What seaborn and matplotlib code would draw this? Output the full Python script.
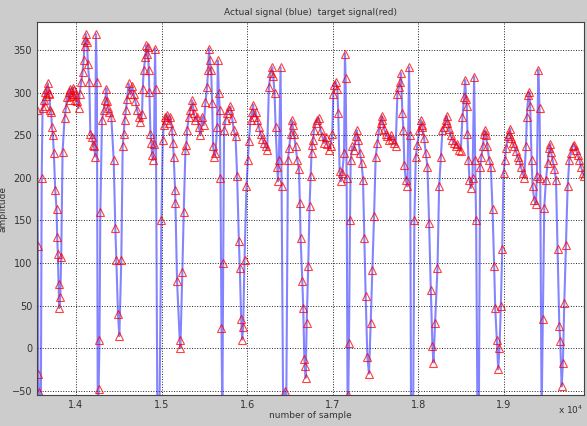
import matplotlib
matplotlib.use("Agg")
import matplotlib.pyplot as plt
import seaborn as sns

# sample index of each point
sample_idx = [
    13548, 13556, 13562, 13568, 13576, 13590, 13600, 13610, 13622, 13633,
    13641, 13653, 13661, 13672, 13680, 13688, 13700, 13711, 13719, 13731,
    13742, 13758, 13774, 13781, 13789, 13797, 13805, 13817, 13828, 13844,
    13867, 13883, 13895, 13914, 13926, 13934, 13945, 13953, 13965, 13973,
    13984, 13992, 14012, 14031, 14043, 14062, 14078, 14090, 14101, 14109,
    14117, 14129, 14140, 14156, 14168, 14187, 14199, 14210, 14226, 14234,
    14245, 14255, 14265, 14275, 14285, 14304, 14324, 14343, 14355, 14366,
    14374, 14390, 14413, 14441, 14460, 14472, 14491, 14507, 14530, 14546,
    14558, 14569, 14585, 14597, 14616, 14636, 14655, 14675, 14694, 14714,
    14733, 14753, 14772, 14780, 14792, 14811, 14823, 14834, 14842, 14850,
    14858, 14870, 14881, 14889, 14901, 14912, 14924, 14932, 14951, 14975,
    14998, 15014, 15026, 15045, 15057, 15068, 15084, 15103, 15123, 15134,
    15142, 15158, 15162, 15181, 15212, 15220, 15243, 15259, 15279, 15290,
    15298, 15318, 15337, 15357, 15368, 15376, 15396, 15415, 15435, 15454,
    15474, 15493, 15513, 15532, 15544, 15555, 15563, 15579, 15591, 15602,
    15618, 15630, 15649, 15657, 15669, 15680, 15688, 15700, 15710, 15720,
    15730, 15747, 15766, 15786, 15805, 15825, 15844, 15864, 15883, 15903,
    15914, 15930, 15942, 15953, 15969, 15992, 16008, 16020, 16039, 16059,
    16070, 16078, 16098, 16117, 16137, 16156, 16176, 16195, 16215, 16234,
    16254, 16273, 16293, 16304, 16320, 16332, 16351, 16359, 16371, 16390,
    16402, 16421, 16441, 16456, 16476, 16491, 16507, 16519, 16530, 16546,
    16566, 16585, 16605, 16616, 16624, 16644, 16655, 16668, 16676, 16684,
    16695, 16713, 16729, 16741, 16752, 16760, 16768, 16780, 16799, 16819,
    16838, 16858, 16877, 16897, 16916, 16936, 16955, 16975, 16994, 17006,
    17017, 17033, 17053, 17064, 17080, 17095, 17111, 17131, 17142, 17150,
    17162, 17173, 17181, 17189, 17201, 17209, 17228, 17248, 17267, 17279,
    17298, 17318, 17337, 17353, 17368, 17384, 17404, 17423, 17443, 17462,
    17482, 17501, 17521, 17540, 17560, 17571, 17579, 17599, 17618, 17638,
    17657, 17677, 17696, 17716, 17735, 17755, 17774, 17786, 17797, 17813,
    17825, 17836, 17852, 17872, 17891, 17903, 17914, 17938, 17953, 17969,
    17988, 18008, 18028, 18039, 18047, 18066, 18086, 18106, 18125, 18145,
    18164, 18176, 18195, 18223, 18242, 18262, 18281, 18300, 18320, 18331,
    18339, 18359, 18378, 18398, 18417, 18437, 18456, 18476, 18495, 18515,
    18534, 18546, 18557, 18565, 18573, 18585, 18596, 18612, 18632, 18651,
    18663, 18674, 18690, 18706, 18721, 18737, 18752, 18768, 18780, 18788,
    18807, 18827, 18846, 18866, 18885, 18897, 18916, 18932, 18947, 18963,
    18979, 18994, 19010, 19025, 19041, 19061, 19072, 19080, 19100, 19119,
    19139, 19158, 19178, 19197, 19217, 19236, 19256, 19267, 19283, 19295,
    19306, 19322, 19334, 19353, 19373, 19384, 19400, 19415, 19423, 19439,
    19454, 19470, 19490, 19509, 19529, 19540, 19548, 19568, 19587, 19607,
    19626, 19646, 19657, 19673, 19688, 19704, 19724, 19743, 19763, 19782,
    19802, 19821, 19841, 19860, 19880, 19899, 19919, 19938,
]

# amplitude at each sample (actual and target share the same points)
amplitude = [
    280, 120, -31, -52, -80, -80, 200, 282, 291, 285,
    301, 296, 305, 311, 300, 299, 280, 278, 260, 250,
    229, 186, 163, 131, 110, 75, 47, 60, 107, 231,
    270, 282, 295, 301, 292, 305, 296, 299, 306, 303,
    292, 298, 290, 282, 299, 313, 325, 338, 362, 355,
    369, 360, 334, 313, 252, 248, 239, 238, 225, 369,
    313, -80, -48, 10, 160, 268, 280, 291, 305, 290,
    282, 278, 272, 221, 141, 104, 40, 14, 104, 237,
    252, 268, 280, 293, 311, 298, 308, 299, 290, 280,
    272, 266, 275, 305, 327, 342, 356, 345, 354, 327,
    301, 252, 241, 227, 221, 240, 352, 304, -80, -80,
    150, 245, 262, 272, 268, 274, 265, 272, 256, 241,
    225, 186, 170, 79, 10, 0, 90, 160, 233, 239,
    256, 272, 280, 291, 284, 276, 268, 272, 260, 250,
    272, 262, 289, 307, 327, 352, 338, 327, 288, 237,
    225, 229, 260, 338, 300, 280, 200, 24, -80, 100,
    256, 268, 276, 280, 284, 270, 256, 249, 202, 126,
    94, 34, 10, 25, 104, 190, 221, 243, 268, 278,
    286, 272, 278, 268, 260, 252, 246, 241, 238, 233,
    307, 323, 330, 320, 300, 260, 213, 196, 221, 330,
    190, -80, -50, -80, 221, 235, 252, 268, 262, 252,
    237, 221, 210, 170, 129, 79, 47, -13, -21, -35,
    30, 96, 167, 202, 229, 239, 245, 256, 264, 268,
    270, 256, 249, 241, 248, 240, 233, 238, 252, 299,
    309, 313, 305, 276, 208, 196, 206, 229, 346, 317,
    200, -80, -55, 6, 150, 221, 237, 233, 249, 256,
    245, 229, 217, 198, 129, 61, -11, -30, 30, 92,
    155, 225, 241, 256, 264, 273, 268, 258, 252, 249,
    245, 250, 246, 241, 238, 299, 307, 313, 323, 276,
    256, 215, 198, 190, 330, 250, -80, -80, 150, 225,
    239, 256, 268, 262, 260, 247, 229, 213, 147, 68,
    2, -17, 30, 94, 190, 225, 256, 260, 268, 273,
    265, 258, 250, 244, 241, 238, 240, 233, 232, 272,
    295, 315, 293, 284, 252, 221, 198, 188, 200, 319,
    221, 151, -80, -80, 213, 225, 237, 252, 256, 250,
    237, 221, 213, 163, 96, 47, 10, -25, 0, 49,
    116, 206, 221, 235, 249, 252, 258, 247, 241, 237,
    232, 225, 221, 213, 206, 200, 237, 272, 297, 301,
    284, 221, 190, 174, 169, 202, 327, 282, 200, -80,
    34, 165, 198, 217, 235, 240, 231, 221, 211, 198,
    116, 26, 8, -45, -17, 53, 121, 190, 221, 229,
    237, 239, 233, 227, 221, 213, 206, 202,
]

x_ticks = [14000, 15000, 16000, 17000, 18000, 19000]
x_tick_labels = ["1.4", "1.5", "1.6", "1.7", "1.8", "1.9"]
y_ticks = [-50, 0, 50, 100, 150, 200, 250, 300, 350]

sns.set_style("white")
plt.rcParams['font.family'] = ['DejaVu Sans']

fig = plt.figure(figsize=(5.87, 4.26), dpi=100, facecolor="#cccccc")
ax = fig.add_axes([0.063, 0.073, 0.932, 0.875])
ax.set_facecolor("white")

# actual signal (blue line)
sns.lineplot(x=sample_idx, y=amplitude, sort=False, estimator=None, ax=ax,
             color="#2020ff", linewidth=1.5, alpha=0.55)
# target signal (red open triangles)
ax.plot(sample_idx, amplitude, linestyle="none", marker="^", markersize=5.5,
        markerfacecolor="none", markeredgecolor="red", markeredgewidth=0.8,
        alpha=0.75)

ax.set_xlim(13545, 19935)
ax.set_ylim(-55, 383)
ax.set_xticks(x_ticks)
ax.set_xticklabels(x_tick_labels)
ax.set_yticks(y_ticks)
ax.tick_params(direction="in", labelsize=7, colors="#333333", length=3)
ax.grid(True, color="#222222", linestyle=":", linewidth=0.7)
for s in ax.spines.values():
    s.set_color("#444444")
    s.set_linewidth(0.8)

ax.set_title("Actual signal (blue)  target signal(red)", fontsize=6.5,
             color="#333333", pad=5)
ax.set_xlabel("number of sample", fontsize=6.5, color="#333333", labelpad=1)
ax.set_ylabel("amplitude", fontsize=6.5, color="#333333", labelpad=3)
fig.text(0.993, 0.028, r"x 10$^4$", fontsize=6.5, color="#333333", ha="right")

fig.savefig("out.png", dpi=100, facecolor=fig.get_facecolor())
